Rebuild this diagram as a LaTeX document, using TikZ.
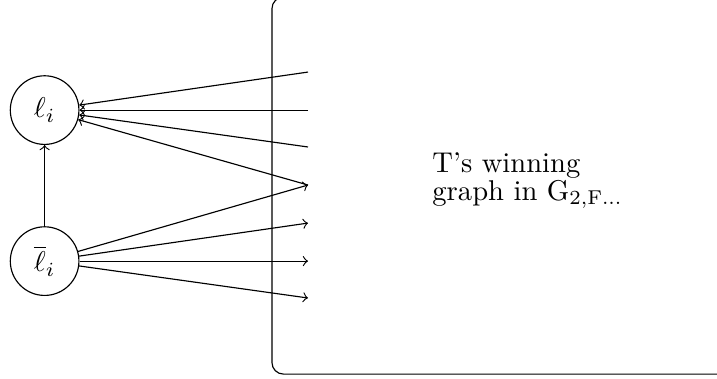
\documentclass[tikz,border=0pt]{standalone}
\usetikzlibrary{positioning}

\begin{document}
\begin{tikzpicture}[
    x=1pt, y=1pt,
    literal/.style={draw, circle, minimum size=24pt, inner sep=1pt},
    graphbox/.style={draw, rectangle, rounded corners=4pt},
    caption/.style={inner sep=0pt, align=left, anchor=north west, font=\fontsize{10}{9.7}\selectfont},
    arrow/.style={->}
]
\useasboundingbox (0,0) rectangle (250.7,-132.5);
\clip (0,0) rectangle (250.7,-132.5);

% Nodes
\node (pos) [literal] at (15.6,-38.5) {$\ell_i$};
\node (neg) [literal] at (15.6,-91.3) {$\overline{\ell}_i$};

% Winning graph (runs off the page at top and right)
\coordinate (boxsw) at (95.1,-130.8);
\coordinate (boxne) at (400,1);
\draw [graphbox] (boxsw) rectangle (boxne);
\node (text) [caption] at (151,-53.3) {T's winning\\graph in G\textsubscript{2,F...}};

% Ends of the connectors inside the box
\foreach \k/\y in {1/25.2, 2/38.5, 3/51.4, 4/64.7, 5/78.0, 6/91.3, 7/104.2}
    \coordinate (t\k) at (107.7,-\y);

% Connections
\draw [arrow] (neg) -- (pos);
\foreach \k in {1,2,3,4}
    \draw [arrow] (t\k) -- (pos);
\foreach \k in {4,5,6,7}
    \draw [arrow] (neg) -- (t\k);

\end{tikzpicture}
\end{document}
